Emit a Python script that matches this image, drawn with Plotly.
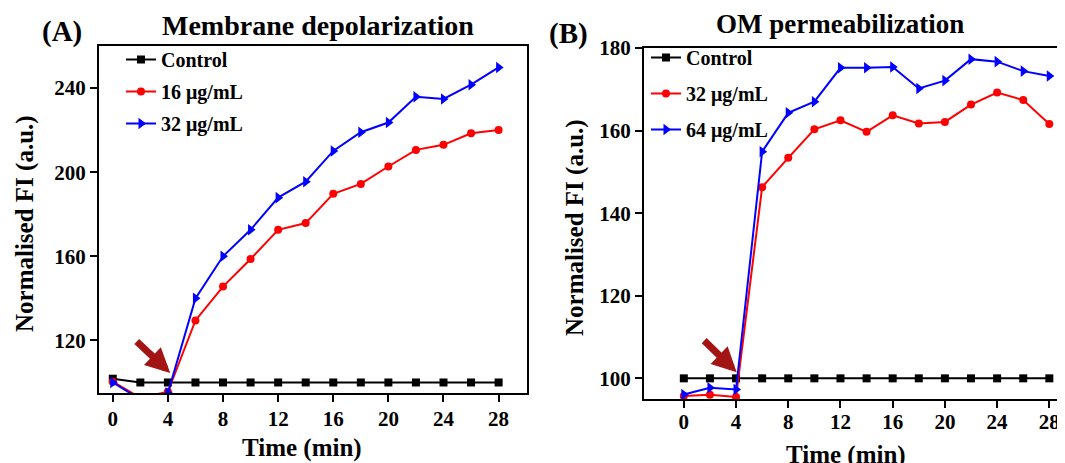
import plotly.graph_objects as go

# ---------------- data ----------------
time = [0, 2, 4, 6, 8, 10, 12, 14, 16, 18, 20, 22, 24, 26, 28]

# (A) Membrane depolarization
ctrl_A = [101.8, 100.0, 100.0, 100.0, 100.0, 100.0, 100.0, 100.0, 100.0, 100.0, 100.0, 100.0, 100.0, 100.0, 100.0]
c16_A = [100.4, 92.7, 95.6, 129.5, 145.6, 158.7, 172.6, 175.8, 189.7, 194.4, 202.7, 210.6, 213.0, 218.5, 220.1]
c32_A = [100.0, 92.0, 95.0, 140.0, 160.0, 172.6, 187.9, 195.5, 210.1, 219.0, 223.6, 235.9, 234.8, 241.6, 249.8]

# (B) OM permeabilization
ctrl_B = [100.0, 100.0, 100.0, 100.0, 100.0, 100.0, 100.0, 100.0, 100.0, 100.0, 100.0, 100.0, 100.0, 100.0, 100.0]
c32_B = [95.7, 96.0, 95.5, 146.3, 153.4, 160.3, 162.5, 159.7, 163.7, 161.7, 162.1, 166.3, 169.2, 167.4, 161.6]
c64_B = [96.1, 97.7, 97.3, 154.9, 164.3, 167.0, 175.2, 175.2, 175.4, 170.2, 172.1, 177.3, 176.7, 174.4, 173.2]

names_A = ["Control", "16 μg/mL", "32 μg/mL"]
names_B = ["Control", "32 μg/mL", "64 μg/mL"]
xticks = [0, 4, 8, 12, 16, 20, 24, 28]
yticks_A = [120, 160, 200, 240]
yticks_B = [100, 120, 140, 160, 180]

FONT = "Liberation Serif"
OFF = 8                      # default page body margin
W, H = 1065 - OFF, 463 - OFF
ARROW = "#A31515"

def px(x):
    return (x - OFF) / W

def py(y):
    return 1 - (y - OFF) / H

fig = go.Figure()

styles = [
    dict(color="black", symbol="square", size=8),
    dict(color="#FF0000", symbol="circle", size=8),
    dict(color="#0000FF", symbol="triangle-right", size=10),
]

for i, (ys, nm) in enumerate(zip([ctrl_A, c16_A, c32_A], names_A)):
    st = styles[i]
    fig.add_trace(go.Scatter(
        x=time, y=ys, name=nm, mode="lines+markers",
        line=dict(color=st["color"], width=2),
        marker=dict(color=st["color"], symbol=st["symbol"], size=st["size"]),
        xaxis="x", yaxis="y", legend="legend", legendgroup="a%d" % i,
    ))

for i, (ys, nm) in enumerate(zip([ctrl_B, c32_B, c64_B], names_B)):
    st = styles[i]
    fig.add_trace(go.Scatter(
        x=time, y=ys, name=nm, mode="lines+markers",
        line=dict(color=st["color"], width=2),
        marker=dict(color=st["color"], symbol=st["symbol"], size=st["size"]),
        xaxis="x2", yaxis="y2", legend="legend2", legendgroup="b%d" % i,
    ))

tickfont = dict(family=FONT, size=21, color="black", weight="bold")
axis_common = dict(
    showline=True, linecolor="black", linewidth=2,
    ticks="outside", ticklen=7, tickwidth=2, tickcolor="black",
    showgrid=False, zeroline=False, tickfont=tickfont,
)

fig.update_layout(
    width=W, height=H,
    margin=dict(l=0, r=0, t=0, b=0, autoexpand=False),
    paper_bgcolor="white", plot_bgcolor="white",
    font=dict(family=FONT, color="black"),
    xaxis=dict(domain=[px(99), px(527)], range=[-1.0, 30.06], tickvals=xticks,
               anchor="y", mirror=True, ticklabelstandoff=-1, **axis_common),
    yaxis=dict(domain=[py(393), py(46)], range=[95, 260], tickvals=yticks_A,
               anchor="x", mirror=True, **axis_common),
    xaxis2=dict(domain=[px(644), 1.0], range=[-3.05, 29.2], tickvals=xticks,
                anchor="y2", mirror=True, ticklabelstandoff=-4, **axis_common),
    yaxis2=dict(domain=[py(399), py(48)], range=[95, 180], tickvals=yticks_B,
                anchor="x2", mirror=False, **axis_common),
    legend=dict(x=px(121), y=py(40), xanchor="left", yanchor="top",
                bgcolor="rgba(0,0,0,0)", tracegroupgap=3,
                font=dict(family=FONT, size=20, color="black", weight="bold")),
    legend2=dict(x=px(646), y=py(38), xanchor="left", yanchor="top",
                 bgcolor="rgba(0,0,0,0)", tracegroupgap=7,
                 font=dict(family=FONT, size=20, color="black", weight="bold")),
    showlegend=True,
)

def txt(x, y, s, size, angle=0):
    fig.add_annotation(x=px(x), y=py(y), xref="paper", yref="paper",
                       text="<b>%s</b>" % s, showarrow=False, textangle=angle,
                       xanchor="center", yanchor="middle",
                       font=dict(family=FONT, size=size, color="black"))

txt(62, 31, "(A)", 29)
txt(568, 33, "(B)", 29)
txt(318, 26, "Membrane depolarization", 28)
txt(840, 24, "OM permeabilization", 27)
txt(25, 224, "Normalised FI (a.u.)", 25, -90)
txt(575, 228, "Normalised FI (a.u.)", 25, -90)
txt(302, 448, "Time (min)", 25)
txt(846, 455, "Time (min)", 25)

# arrows marking the addition time
fig.add_annotation(x=4.17, y=104.5, xref="x", yref="y", ax=-35, ay=-33,
                   axref="pixel", ayref="pixel", text="", showarrow=True,
                   arrowhead=2, arrowsize=0.7, arrowwidth=7, arrowcolor=ARROW, standoff=0)
fig.add_annotation(x=4.05, y=101.5, xref="x2", yref="y2", ax=-34, ay=-33,
                   axref="pixel", ayref="pixel", text="", showarrow=True,
                   arrowhead=2, arrowsize=0.7, arrowwidth=7, arrowcolor=ARROW, standoff=0)

fig.write_html("out.html")
